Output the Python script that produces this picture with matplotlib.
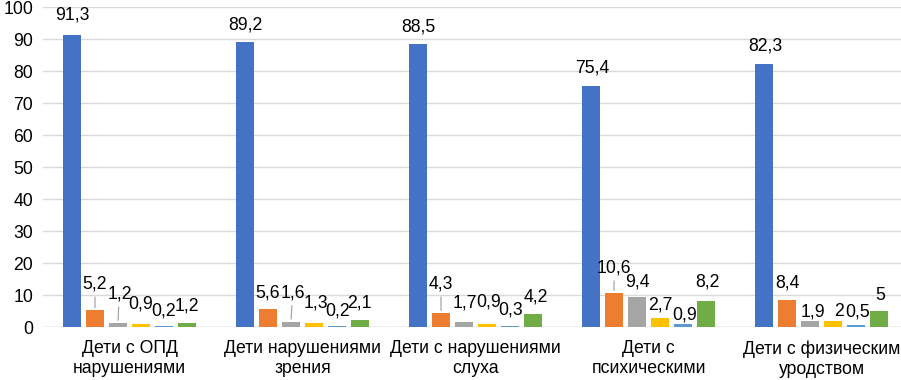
import matplotlib
matplotlib.use("Agg")
import matplotlib.pyplot as plt
import numpy as np

plt.rcParams['font.family'] = ['Liberation Sans', 'DejaVu Sans']

categories = ["Дети с ОПД\nнарушениями", "Дети нарушениями\nзрения", "Дети с нарушениями\nслуха",
              "Дети с\nпсихическими", "Дети с физическим\nуродством"]
s1 = [91.3, 89.2, 88.5, 75.4, 82.3]
s2 = [5.2, 5.6, 4.3, 10.6, 8.4]
s3 = [1.2, 1.6, 1.7, 9.4, 1.9]
s4 = [0.9, 1.3, 0.9, 2.7, 2]
s5 = [0.2, 0.2, 0.3, 0.9, 0.5]
s6 = [1.2, 2.1, 4.2, 8.2, 5]
series = [s1, s2, s3, s4, s5, s6]
colors = ["#4472C4", "#ED7D31", "#A5A5A5", "#FFC000", "#5B9BD5", "#70AD47"]

# label offsets in pixels (dy above bar top to label centre, dx), per series then category
label_dy = [[20, 17, 17, 18, 18],
            [26, 16, 29, 25, 17],
            [29, 29, 19, 15, 9],
            [20, 20, 22, 13, 9],
            [15, 15, 16, 9, 13],
            [17, 17, 17, 19, 15]]
label_dx = [[0, 0, 0, 1.5, 1.5],
            [0, 0, 0, 0, 0],
            [1.5, 2, 1, 0, 2.5],
            [0, 1.5, 2, 0, 6],
            [0, 1, 0.5, 1.5, 2],
            [0, -1, 2.5, 1, 1.5]]
leaders = {(1, 0), (2, 0), (2, 1), (1, 2), (1, 3)}

FS = 12.7

def fmt(v):
    return ("%g" % v).replace(".", ",")

W, H = 901, 380
fig = plt.figure(figsize=(W / 100, H / 100), dpi=100)
left, right_px, top, bottom = 43, 43 + 865, 7, 327
ax = fig.add_axes([left / W, (H - bottom) / H, (right_px - left) / W, (bottom - top) / H])

cw = 173.0
slot = 23 / cw
bw = 18 / cw
x = np.arange(len(categories))
for k, (vals, c) in enumerate(zip(series, colors)):
    xs = x + (k - 2.5) * slot
    ax.bar(xs, vals, width=bw, color=c, zorder=3)
    for j, (xx, v) in enumerate(zip(xs, vals)):
        dy = label_dy[k][j]
        dx = label_dx[k][j]
        ax.annotate(fmt(v), xy=(xx, v), xytext=(dx, dy), textcoords='offset pixels',
                    ha='center', va='center', fontsize=FS, color='#000000', zorder=5)
        if (k, j) in leaders:
            ax.annotate("", xy=(xx, v), xytext=(dx * 0.5, dy - 10), textcoords='offset pixels',
                        arrowprops=dict(arrowstyle='-', color='#A6A6A6', lw=0.9), zorder=4)

ax.set_xlim(-0.5, len(categories) - 0.5)
ax.set_ylim(0, 100)
ax.set_yticks(np.arange(0, 101, 10))
ax.yaxis.grid(True, color='#D9D9D9', lw=1, zorder=0)
for s in ax.spines.values():
    s.set_visible(False)
ax.axhline(0, color='#D9D9D9', lw=1, zorder=2)
ax.set_xticks(x)
ax.set_xticklabels(categories, fontsize=FS, linespacing=1.25)
ax.tick_params(axis='both', length=0, colors='#000000', labelsize=FS)
ax.tick_params(axis='y', pad=7)
ax.tick_params(axis='x', pad=9.5)

fig.savefig("out.png", dpi=100)
